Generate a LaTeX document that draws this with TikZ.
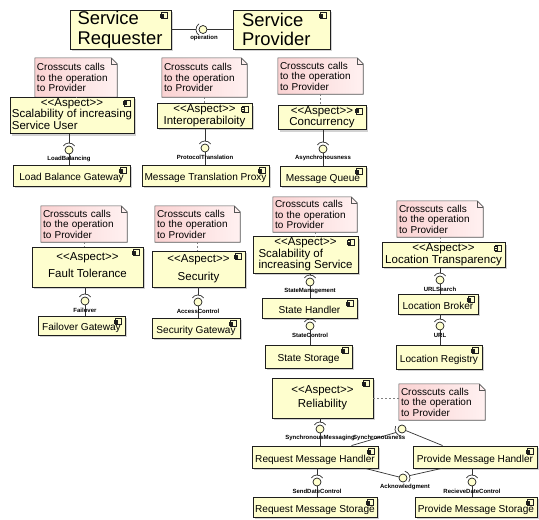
\documentclass[tikz,border=0pt]{standalone}
\usepackage{fontspec}
\setmainfont{Liberation Sans}
\usetikzlibrary{shadows,calc,backgrounds}

\definecolor{compfill}{HTML}{FEFECE}
\definecolor{compedge}{HTML}{1E1E1E}
\definecolor{notepink}{HTML}{FAD2D2}
\definecolor{notelight}{HTML}{FFF1F1}
\definecolor{noteedge}{HTML}{555555}

\tikzset{
  comp/.style={draw=compedge, line width=0.9pt, fill=compfill,
    drop shadow={shadow xshift=2pt, shadow yshift=-2pt, fill=black!35},
    inner sep=1pt, font=\fontsize{10.1}{11}\selectfont,
    text height=11pt, text depth=0.6pt},
  aspect/.style={comp, font=\fontsize{11.5}{11}\selectfont,
    text height=, text depth=},
  note/.style={inner sep=2pt, align=left, font=\fontsize{10}{10.5}\selectfont},
  iface/.style={circle, draw=compedge, fill=compfill, line width=0.7pt,
    minimum size=8pt, inner sep=0pt},
  ilabel/.style={font=\bfseries\fontsize{6}{6}\selectfont, inner sep=0pt},
  wire/.style={draw=black!80, line width=0.7pt},
  socket/.style={draw=black!80, line width=0.7pt},
  noteline/.style={draw=black!50, line width=0.6pt, dash pattern=on 2pt off 2pt},
}

\newcommand\aspectst{<\kern0pt<Aspect>\kern0pt>}

% component icon in the top right corner of a box
\newcommand\cicon[1]{%
  \draw[draw=compedge, fill=compfill, line width=0.5pt]
    ($(#1.north east)+(-10pt,-3pt)$) rectangle ($(#1.north east)+(-4pt,-9pt)$);
  \draw[draw=compedge, fill=compfill, line width=0.5pt]
    ($(#1.north east)+(-11.5pt,-4.3pt)$) rectangle ($(#1.north east)+(-8.5pt,-5.7pt)$);
  \draw[draw=compedge, fill=compfill, line width=0.5pt]
    ($(#1.north east)+(-11.5pt,-6.5pt)$) rectangle ($(#1.north east)+(-8.5pt,-7.9pt)$);
}

% dog-eared note outline behind a note node
\newcommand\notebg[1]{%
  \path[left color=notepink, right color=notelight, draw=noteedge, line width=0.6pt]
    (#1.north west) -- ($(#1.north east)+(-6pt,0pt)$) -- ($(#1.north east)+(0pt,-6pt)$)
    -- (#1.south east) -- (#1.south west) -- cycle;
  \draw[noteedge, line width=0.6pt]
    ($(#1.north east)+(-6pt,0pt)$) -- ($(#1.north east)+(-6pt,-6pt)$) -- ($(#1.north east)+(0pt,-6pt)$);
}

% provided interface (ball) with a required socket above it
% #1 name, #2 x, #3 y, #4 node above, #5 node below, #6 label
\newcommand\lolli[6]{%
  \node[iface] (#1) at (#2,#3) {};
  \coordinate (#1s) at ($(#1.center)+(0pt,7pt)$);
  \draw[socket] ($(#1.center)+(35:7pt)$) arc[start angle=35, end angle=145, radius=7pt];
  \draw[wire] (#4.south -| #1s) -- (#1s);
  \draw[wire] (#1) -- (#5.north -| #1);
  \node[ilabel] (#1l) at (#2,#3+9) {#6};
}

\newcommand\crosstext{Crosscuts calls\\to the operation\\to Provider}

\begin{document}
\begin{tikzpicture}[x=1pt,y=-1pt]
\useasboundingbox (0,0) rectangle (539,520);

% ---------- requester / provider ----------
\node[comp, minimum width=101pt, minimum height=39pt, align=left, text width=86pt,
      font=\fontsize{18.4}{19.5}\selectfont, text height=, text depth=] (req) at (120.5,29.5) {Service\\Requester};
\node[comp, minimum width=97pt, minimum height=39pt, align=left, text width=79pt,
      font=\fontsize{18.4}{19.5}\selectfont, text height=, text depth=] (prov) at (281.5,29.5) {Service\\Provider};
\cicon{req}\cicon{prov}
\node[iface] (cop) at (203,29.5) {};
\coordinate (kop) at ($(cop.center)+(-7pt,0pt)$);
\draw[socket] ($(cop.center)+(125:7pt)$) arc[start angle=125, end angle=235, radius=7pt];
\draw[wire] (req.east) -- (kop);
\draw[wire] (cop) -- (prov.west);
\node[ilabel] (copl) at (204,37.5) {operation};

% ---------- notes ----------
\node[note, minimum width=82pt, minimum height=39pt, text width=78pt] (n1) at (76,77.5) {\crosstext};
\node[note, minimum width=85pt, minimum height=39pt, text width=81pt] (n2) at (204.5,77.5) {\crosstext};
\node[note, minimum width=85pt, minimum height=36pt, text width=81pt] (n3) at (320.5,76) {\crosstext};
\node[note, minimum width=86pt, minimum height=36pt, text width=82pt] (n4) at (84,224) {\crosstext};
\node[note, minimum width=85pt, minimum height=36pt, text width=81pt] (n5) at (197.5,224) {\crosstext};
\node[note, minimum width=84pt, minimum height=35pt, text width=80pt] (n6) at (315,214.5) {\crosstext};
\node[note, minimum width=86pt, minimum height=36pt, text width=82pt] (n7) at (440,219) {\crosstext};
\node[note, minimum width=86pt, minimum height=36pt, text width=82pt] (n8) at (442,402) {\crosstext};
\begin{scope}[on background layer]
  \notebg{n1}\notebg{n2}\notebg{n3}\notebg{n4}\notebg{n5}\notebg{n6}\notebg{n7}\notebg{n8}
\end{scope}

% ---------- aspects ----------
\node[aspect, minimum width=124pt, minimum height=35pt] (a1) at (72,115.5)
  {\begin{tabular}{@{}l@{}}\multicolumn{1}{@{}c@{}}{\aspectst}\\Scalability of increasing\\Service User\end{tabular}};
\node[aspect, minimum width=95pt, minimum height=24pt] (a2) at (204.5,116)
  {\begin{tabular}{@{}l@{}}\multicolumn{1}{@{}c@{}}{\aspectst}\\Interoperabiloity\end{tabular}};
\node[aspect, minimum width=88pt, minimum height=23pt] (a3) at (322,117.5)
  {\begin{tabular}{@{}c@{}}\aspectst\\Concurrency\end{tabular}};
\node[aspect, minimum width=111pt, minimum height=40pt] (a4) at (87.5,267)
  {\begin{tabular}{@{}c@{}}\aspectst\\[5pt]Fault Tolerance\end{tabular}};
\node[aspect, minimum width=93pt, minimum height=36pt] (a5) at (198.5,269)
  {\begin{tabular}{@{}c@{}}\aspectst\\[6pt]Security\end{tabular}};
\node[aspect, minimum width=105pt, minimum height=34pt] (a6) at (305.5,255)
  {\begin{tabular}{@{}l@{}}\multicolumn{1}{@{}c@{}}{\aspectst}\\Scalability of\\increasing Service\end{tabular}};
\node[aspect, minimum width=123pt, minimum height=22pt] (a7) at (443.5,255)
  {\begin{tabular}{@{}c@{}}\aspectst\\Location Transparency\end{tabular}};
\node[aspect, minimum width=101pt, minimum height=40pt] (a8) at (322.5,398)
  {\begin{tabular}{@{}c@{}}\aspectst\\[2pt]Reliability\end{tabular}};
\cicon{a1}\cicon{a2}\cicon{a3}\cicon{a4}\cicon{a5}\cicon{a6}\cicon{a7}\cicon{a8}

% note links
\draw[noteline] (n1.south) -- (a1.north -| n1.south);
\draw[noteline] (n2.south) -- (a2.north -| n2.south);
\draw[noteline] (n3.south) -- (a3.north -| n3.south);
\draw[noteline] (n4.south) -- (a4.north -| n4.south);
\draw[noteline] (n5.south) -- (a5.north -| n5.south);
\draw[noteline] (n6.south) -- (a6.north -| n6.south);
\draw[noteline] (n7.south) -- (a7.north -| n7.south);
\draw[noteline] (a8.east) -- (a8.east -| n8.west);

% ---------- components ----------
\node[comp, minimum width=117pt, minimum height=21pt] (g1) at (71.5,175.5) {Load Balance Gateway};
\node[comp, minimum width=127pt, minimum height=21pt] (g2) at (205.5,175.5) {Message Translation Proxy};
\node[comp, minimum width=86pt, minimum height=20pt] (g3) at (323,176) {Message Queue};
\node[comp, minimum width=87pt, minimum height=19pt] (g4) at (81.5,325.5) {Failover Gateway};
\node[comp, minimum width=88pt, minimum height=20pt] (g5) at (196,328) {Security Gateway};
\node[comp, minimum width=95pt, minimum height=20pt] (h6) at (309.5,308) {State Handler};
\node[comp, minimum width=87pt, minimum height=23pt] (s6) at (308.5,356.5) {State Storage};
\node[comp, minimum width=80pt, minimum height=20pt] (b7) at (438,304) {Location Broker};
\node[comp, minimum width=86pt, minimum height=24pt] (r7) at (439,357) {Location Registry};
\node[comp, minimum width=126pt, minimum height=22pt] (rmh) at (315,457) {Request Message Handler};
\node[comp, minimum width=124pt, minimum height=22pt] (pmh) at (475,457) {Provide Message Handler};
\node[comp, minimum width=124pt, minimum height=20pt] (rms) at (315,507) {Request Message Storage};
\node[comp, minimum width=122pt, minimum height=20pt] (pms) at (476,507) {Provide Message Storage};
\cicon{g1}\cicon{g2}\cicon{g3}\cicon{g4}\cicon{g5}\cicon{h6}\cicon{s6}\cicon{b7}\cicon{r7}
\cicon{rmh}\cicon{pmh}\cicon{rms}\cicon{pms}

% ---------- interfaces ----------
\lolli{c1}{69}{150}{a1}{g1}{LoadBalancing}
\lolli{c2}{205}{148}{a2}{g2}{ProtocolTranslation}
\lolli{c3}{323}{149}{a3}{g3}{Asynchronousness}
\lolli{c4}{85}{301}{a4}{g4}{Failover}
\lolli{c5}{198}{302}{a5}{g5}{AccessControl}
\lolli{c6}{310}{282}{a6}{h6}{StateManagement}
\lolli{c6b}{310}{326}{h6}{s6}{StateControl}
\lolli{c7}{440}{280}{a7}{b7}{URLSearch}
\lolli{c7b}{440}{326}{b7}{r7}{URL}
\lolli{c8}{320}{429}{a8}{rmh}{SynchronousMessaging}
\lolli{c11}{317}{482}{rmh}{rms}{SendDateControl}
\lolli{c12}{472}{482}{pmh}{pms}{RecieveDateControl}

% shared synchronousness interface between the two handlers
\node[iface] (c9) at (402,429) {};
\coordinate (c9s) at ($(c9.center)+(210:7pt)$);
\draw[socket] ($(c9.center)+(155:7pt)$) arc[start angle=155, end angle=265, radius=7pt];
\draw[wire] (c9s) -- ($(rmh.north west)+(100pt,0pt)$);
\draw[wire] (c9) -- ($(pmh.north west)+(30pt,0pt)$);
\node[ilabel, anchor=west] (c9l) at (353,438) {Synchronousness};

% acknowledgment interface between the two handlers
\node[iface] (c10) at (403,478) {};
\coordinate (c10s) at ($(c10.center)+(20:7pt)$);
\draw[socket] ($(c10.center)+(-35:7pt)$) arc[start angle=-35, end angle=75, radius=7pt];
\draw[wire] (c10s) -- ($(pmh.south west)+(29pt,0pt)$);
\draw[wire] (c10) -- ($(rmh.south east)+(-13pt,0pt)$);
\node[ilabel] (c10l) at (405,487) {Acknowledgment};

\end{tikzpicture}
\end{document}
